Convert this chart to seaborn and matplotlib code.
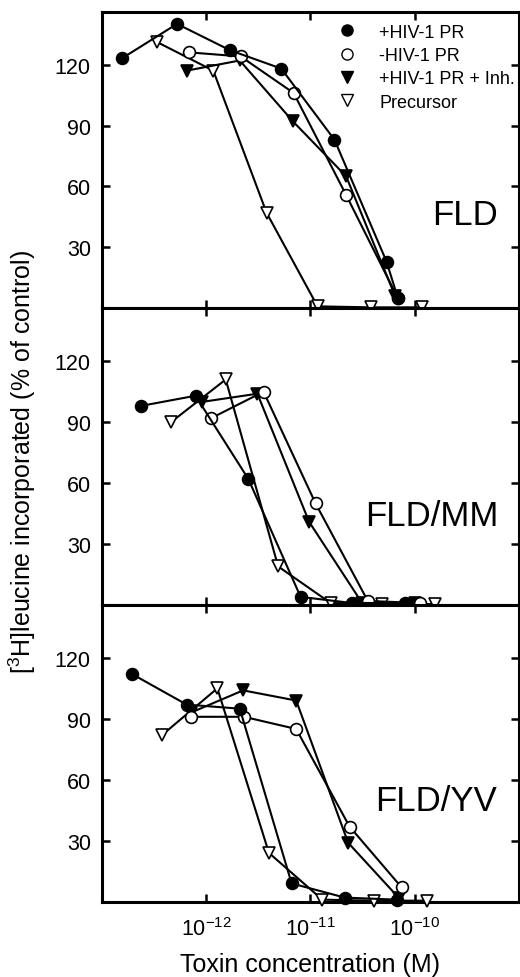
"""
Toxin dose-response: FLD, FLD/MM, FLD/YV
"""

import numpy as np
import pandas as pd
import matplotlib
matplotlib.use("Agg")
import matplotlib.pyplot as plt
from matplotlib.lines import Line2D
import seaborn as sns

sns.set_style("ticks")
plt.rcParams["font.family"] = ["Liberation Sans", "DejaVu Sans"]
plt.rcParams["mathtext.fontset"] = "custom"
plt.rcParams["mathtext.rm"] = "Liberation Sans"
plt.rcParams["mathtext.it"] = "Liberation Sans:italic"
for k in ("text.color", "axes.labelcolor", "xtick.color", "ytick.color",
          "axes.edgecolor"):
    plt.rcParams[k] = "black"

SERIES = ["+HIV-1 PR", "-HIV-1 PR", "+HIV-1 PR + Inh.", "Precursor"]
PANELS = ["FLD", "FLD/MM", "FLD/YV"]

# ── FLD ──
fld_plus_x = [1.55e-13, 5.25e-13, 1.70e-12, 5.25e-12, 1.70e-11, 5.37e-11, 6.9e-11]
fld_plus_y = [123, 140, 127, 118, 83, 23, 5]
fld_minus_x = [6.8e-13, 2.14e-12, 6.9e-12, 2.19e-11, 6.9e-11]
fld_minus_y = [126, 124, 106, 56, 5]
fld_inh_x = [6.5e-13, 2.1e-12, 6.8e-12, 2.2e-11, 6.5e-11]
fld_inh_y = [117, 122, 92, 65, 6]
fld_prec_x = [3.4e-13, 1.17e-12, 3.8e-12, 1.17e-11, 3.8e-11, 1.17e-10]
fld_prec_y = [131, 117, 47, 1, 0.5, 0.5]

# ── FLD/MM ──
mm_plus_x = [2.37e-13, 7.9e-13, 2.54e-12, 8.05e-12, 2.5e-11, 8.0e-11]
mm_plus_y = [98, 103, 62, 4, 1, 1]
mm_minus_x = [1.12e-12, 3.55e-12, 1.12e-11, 3.55e-11, 1.13e-10]
mm_minus_y = [92, 105, 50, 2, 1]
mm_inh_x = [9.2e-13, 3.1e-12, 9.7e-12, 3.13e-11, 1.0e-10]
mm_inh_y = [100, 104, 41, 1, 1]
mm_prec_x = [4.6e-13, 1.54e-12, 4.9e-12, 1.56e-11, 4.9e-11, 1.58e-10]
mm_prec_y = [90, 111, 19, 1, 0.5, 0.5]

# ── FLD/YV ──
yv_plus_x = [1.95e-13, 6.5e-13, 2.1e-12, 6.6e-12, 2.14e-11, 6.8e-11]
yv_plus_y = [112, 97, 95, 9, 2, 1]
yv_minus_x = [7.2e-13, 2.3e-12, 7.3e-12, 2.37e-11, 7.5e-11]
yv_minus_y = [91, 91, 85, 37, 7]
yv_inh_x = [7.1e-13, 2.26e-12, 7.3e-12, 2.3e-11, 7.0e-11]
yv_inh_y = [93, 104, 99, 29, 2]
yv_prec_x = [3.77e-13, 1.28e-12, 4.0e-12, 1.3e-11, 4.05e-11, 1.31e-10]
yv_prec_y = [82, 105, 24, 1, 0.5, 0.5]

x_ticks = [1e-12, 1e-11, 1e-10]
x_tick_labels = ["10$^{-12}$", "10$^{-11}$", "10$^{-10}$"]
y_ticks = [30, 60, 90, 120]

datos = {
    "FLD": [(fld_plus_x, fld_plus_y), (fld_minus_x, fld_minus_y),
            (fld_inh_x, fld_inh_y), (fld_prec_x, fld_prec_y)],
    "FLD/MM": [(mm_plus_x, mm_plus_y), (mm_minus_x, mm_minus_y),
               (mm_inh_x, mm_inh_y), (mm_prec_x, mm_prec_y)],
    "FLD/YV": [(yv_plus_x, yv_plus_y), (yv_minus_x, yv_minus_y),
               (yv_inh_x, yv_inh_y), (yv_prec_x, yv_prec_y)],
}

rows = []
for panel, lista in datos.items():
    for serie, (xs, ys) in zip(SERIES, lista):
        for i, (x, y) in enumerate(zip(xs, ys)):
            rows.append({"panel": panel, "serie": serie, "orden": i,
                         "conc": x, "pct": y})
df = pd.DataFrame(rows)

# estilo de marcadores: (marker, relleno)
ESTILO = {
    "+HIV-1 PR": ("o", "black"),
    "-HIV-1 PR": ("o", "white"),
    "+HIV-1 PR + Inh.": ("v", "black"),
    "Precursor": ("v", "white"),
}
MS = 8.5
LW = 1.5
TICK_FS = 15.5

fig, axes = plt.subplots(3, 1, figsize=(5.2, 9.78), dpi=100, sharex=True)
fig.subplots_adjust(left=0.196, right=0.998, top=0.987, bottom=0.077, hspace=0)

label_pos = {"FLD": (0.87, 0.317), "FLD/MM": (0.79, 0.303), "FLD/YV": (0.80, 0.34)}

for ax, panel in zip(axes, PANELS):
    sub = df[df["panel"] == panel]
    for z, serie in enumerate(SERIES[::-1]):
        d = sub[sub["serie"] == serie].sort_values("orden")
        mk, fc = ESTILO[serie]
        sns.lineplot(data=d, x="conc", y="pct", ax=ax, color="black",
                     sort=False, estimator=None, lw=LW, marker=mk, ms=MS,
                     markerfacecolor=fc, markeredgecolor="black",
                     markeredgewidth=1.2, clip_on=False, zorder=3 + z)
    ax.set_xscale("log")
    ax.set_xlim(1e-13, 1e-9)
    ax.set_ylim(0, 146)
    ax.set_yticks(y_ticks)
    ax.set_yticklabels([str(v) for v in y_ticks])
    ax.set_xticks(x_ticks)
    ax.set_xticklabels(x_tick_labels)
    ax.xaxis.set_minor_locator(matplotlib.ticker.NullLocator())
    ax.tick_params(direction="in", length=6, width=1.8, top=True, right=True,
                   color="black", labelsize=TICK_FS)
    ax.tick_params(axis="y", pad=8)
    ax.tick_params(axis="x", pad=11)
    ax.set_xlabel("")
    ax.set_ylabel("")
    for s in ax.spines.values():
        s.set_linewidth(2.2)
        s.set_visible(True)
    lx, ly = label_pos[panel]
    ax.text(lx, ly, panel, transform=ax.transAxes, ha="center", va="center",
            fontsize=25)

# leyenda
handles = []
for serie in SERIES:
    mk, fc = ESTILO[serie]
    handles.append(Line2D([], [], ls="none", marker=mk, ms=MS - 0.5,
                          markerfacecolor=fc, markeredgecolor="black",
                          markeredgewidth=1.0))
axes[0].legend(handles, SERIES, loc="upper left", bbox_to_anchor=(0.561, 0.96),
               frameon=False, fontsize=13, handletextpad=1.2, labelspacing=0.35,
               borderpad=0, borderaxespad=0, handlelength=1.2)

axes[2].set_xlabel("Toxin concentration (M)", fontsize=18, labelpad=9)
fig.text(0.042, 0.528, "[$^3$H]leucine incorporated (% of control)",
         rotation=90, ha="center", va="center", fontsize=18)

plt.savefig("out.png", dpi=100, facecolor="white")
